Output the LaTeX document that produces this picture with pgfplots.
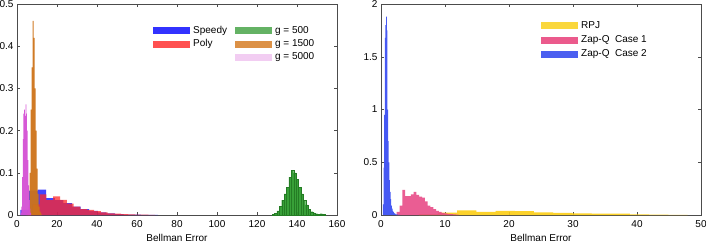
\documentclass[border=0pt]{standalone}
\usepackage{fontspec}
\setmainfont{Liberation Sans}
\usepackage{pgfplots}
\pgfplotsset{compat=1.18}
\definecolor{cSpeedy}{RGB}{20,20,255}
\definecolor{cPoly}{RGB}{255,40,40}
\definecolor{cG500}{RGB}{45,155,45}
\definecolor{cG1500}{RGB}{205,115,25}
\definecolor{cG5000}{RGB}{212,80,212}
\definecolor{lSpeedy}{RGB}{50,50,255}
\definecolor{lPoly}{RGB}{255,80,80}
\definecolor{lG500}{RGB}{100,178,100}
\definecolor{lG1500}{RGB}{220,145,70}
\definecolor{lG5000}{RGB}{242,205,242}
\definecolor{cRPJ}{RGB}{252,205,20}
\definecolor{cZ1}{RGB}{232,75,135}
\definecolor{cZ2}{RGB}{60,80,242}
\definecolor{lRPJ}{RGB}{250,215,60}
\definecolor{lZ1}{RGB}{235,90,140}
\definecolor{lZ2}{RGB}{75,95,240}
\pgfplotsset{
  hstyle/.style={
    scale only axis, width=320pt, height=211pt,
    axis line style={black!70},
    every tick/.style={black!70, line width=0.4pt},
    major tick length=3pt,
    tick align=inside,
    xtick pos=both, ytick pos=both,
    xticklabel pos=lower, yticklabel pos=left,
    xticklabel style={yshift=-1.5pt},
    /pgf/number format/assume math mode=true,
    /pgf/number format/fixed,
    xlabel={Bellman Error},
    xlabel style={yshift=0pt},
    ymin=0,
    legend image code/.code={\fill[##1, draw=none] (0pt,-3.5pt) rectangle (37pt,3.5pt);},
    legend cell align=left,
  }
}
\begin{document}
\begin{tikzpicture}
\begin{axis}[hstyle, at={(17pt,32pt)}, anchor=south west,
  xmin=0, xmax=160, ymax=0.5,
  xtick={0,20,...,160}, ytick={0,0.1,0.2,0.3,0.4,0.5},
  legend columns=2,
  legend style={draw=none, fill=none, inner sep=0pt, at={(0.425,0.905)}, anchor=north west,
    nodes={text height=7.5pt, text depth=2.5pt, inner ysep=1.65pt, inner xsep=3pt},
    /tikz/every even column/.append style={column sep=5pt}},
]
\addplot[ybar interval, fill=cSpeedy, fill opacity=0.8, draw=none, forget plot] coordinates {
(1.7,0.012) (6.0,0.058) (10.3,0.06) (14.6,0.04) (18.9,0.035) (23.2,0.028) (27.5,0.02) (31.8,0.014) (36.1,0.01) (40.4,0.006) (44.7,0.004) (49.0,0.002) (53.3,0.001) (57.6,0.0008) (61.9,0.0005) (66.2,0.0003) (70.5,0)};
\addplot[ybar interval, fill=cPoly, fill opacity=0.75, draw=none, forget plot] coordinates {
(4.5,0.004) (7.9,0.025) (11.3,0.049) (14.7,0.035) (18.1,0.044) (21.5,0.036) (24.9,0.027) (28.3,0.02) (31.7,0.014) (35.1,0.012) (38.5,0.009) (41.9,0.006) (45.3,0.004) (48.7,0.003) (52.1,0.002) (55.5,0.0015) (58.9,0.001) (62.3,0.0008) (65.7,0.0005) (69.1,0)};
\addplot[ybar interval, fill=cG500, fill opacity=0.95, draw=cG500!80!black, line width=0.2pt, forget plot] coordinates {
(127.5,0.002) (128.7,0.004) (129.9,0.01) (131.1,0.02) (132.3,0.035) (133.5,0.05) (134.7,0.065) (135.9,0.09) (137.1,0.106) (138.3,0.1) (139.5,0.085) (140.7,0.065) (141.9,0.05) (143.1,0.035) (144.3,0.024) (145.5,0.014) (146.7,0.008) (147.9,0.005) (149.1,0.003) (150.3,0.002) (151.5,0.003) (152.7,0.001) (153.9,0)};
\addplot[ybar interval, fill=cG1500, fill opacity=0.95, draw=none, forget plot] coordinates {
(5.35,0.005) (5.85,0.02) (6.35,0.1) (6.85,0.25) (7.35,0.35) (7.85,0.46) (8.35,0.42) (8.85,0.3) (9.35,0.2) (9.85,0.11) (10.35,0.05) (10.85,0.02) (11.35,0.008) (11.85,0.003) (12.35,0)};
\addplot[ybar interval, fill=cG5000, fill opacity=0.95, draw=none, forget plot] coordinates {
(1.825,0.005) (2.175,0.02) (2.525,0.09) (2.875,0.18) (3.225,0.24) (3.575,0.25) (3.925,0.235) (4.275,0.262) (4.625,0.24) (4.975,0.2) (5.325,0.13) (5.675,0.07) (6.025,0.035) (6.375,0.015) (6.725,0.005) (7.075,0)};
\addlegendimage{fill=lSpeedy}\addlegendentry{Speedy}
\addlegendimage{fill=lG500}\addlegendentry{g = 500}
\addlegendimage{fill=lPoly}\addlegendentry{Poly}
\addlegendimage{fill=lG1500}\addlegendentry{g = 1500}
\addlegendimage{empty legend}\addlegendentry{}
\addlegendimage{fill=lG5000}\addlegendentry{g = 5000}
\end{axis}
\begin{axis}[hstyle, at={(381pt,32pt)}, anchor=south west,
  xmin=0, xmax=50, ymax=2,
  xtick={0,10,...,50}, ytick={0,0.5,1,1.5,2},
  legend style={draw=none, fill=none, inner sep=0pt, at={(0.5,0.931)}, anchor=north west,
    nodes={text height=7.5pt, text depth=2.5pt, inner ysep=2.1pt, inner xsep=3pt}},
]
\addplot[ybar interval, fill=cRPJ, fill opacity=0.9, draw=none, forget plot] coordinates {
(5.9,0.008) (8.9,0.022) (11.9,0.045) (14.9,0.03) (17.9,0.038) (20.9,0.036) (23.9,0.024) (26.9,0.02) (29.9,0.016) (32.9,0.014) (35.9,0.012) (38.9,0.006) (41.9,0.003) (44.9,0.002) (47.9,0)};
\addplot[ybar interval, fill=cZ1, fill opacity=0.9, draw=none, forget plot] coordinates {
(2.45,0.03) (2.89,0.09) (3.33,0.237) (3.77,0.18) (4.21,0.18) (4.65,0.195) (5.09,0.22) (5.53,0.19) (5.97,0.175) (6.41,0.165) (6.85,0.13) (7.29,0.09) (7.73,0.075) (8.17,0.055) (8.61,0.04) (9.05,0.03) (9.49,0.02) (9.93,0.015) (10.37,0.01) (10.81,0.008) (11.25,0.005) (11.69,0.003) (12.13,0)};
\addplot[ybar interval, fill=cZ2, fill opacity=0.95, draw=none, forget plot] coordinates {
(0.3,0.1) (0.4,0.45) (0.5,0.95) (0.6,1.68) (0.7,1.8) (0.8,1.88) (0.9,1.75) (1.0,1.0) (1.1,0.7) (1.2,0.5) (1.3,0.33) (1.4,0.22) (1.5,0.15) (1.6,0.09) (1.7,0.06) (1.8,0.04) (1.9,0.03) (2.0,0.02) (2.1,0.015) (2.2,0.01) (2.3,0.005) (2.6,0.002) (3.0,0)};
\addlegendimage{fill=lRPJ}\addlegendentry{RPJ}
\addlegendimage{fill=lZ1}\addlegendentry{Zap-Q\ \ Case 1}
\addlegendimage{fill=lZ2}\addlegendentry{Zap-Q\ \ Case 2}
\end{axis}
\pgfresetboundingbox
\useasboundingbox (0pt,0pt) rectangle (706pt,247pt);
\end{tikzpicture}
\end{document}
